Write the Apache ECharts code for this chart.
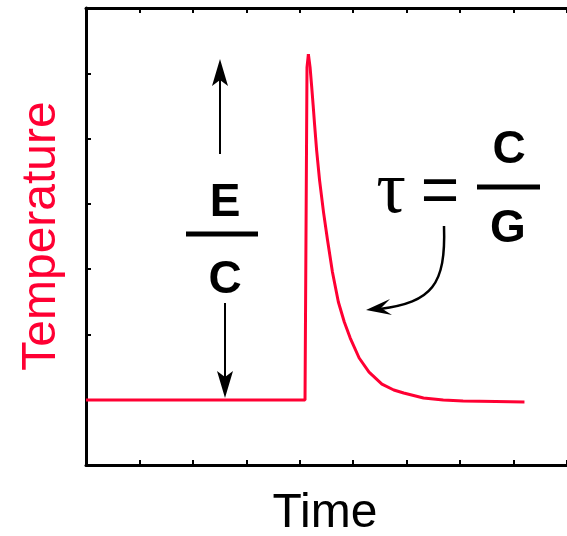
<!DOCTYPE html>
<html>
<head>
<meta charset="utf-8">
<script src="https://cdn.jsdelivr.net/npm/echarts@6/dist/echarts.min.js"></script>
<style>html,body{margin:0;padding:0;background:#fff;}#c{width:567px;height:536px;}</style>
</head>
<body>
<div id="c"></div>
<script>
// Data (arbitrary units)
const riseTime = [0, 1, 2, 3, 4, 4.098, 4.135, 4.161];
const riseTemp = [0.995, 0.995, 0.995, 0.995, 0.995, 0.995, 6.09, 6.294];
const decayTime = [4.161, 4.194, 4.222, 4.250, 4.278, 4.315, 4.370, 4.444, 4.519, 4.611, 4.722, 4.833, 4.944, 5.111, 5.296, 5.537, 5.759, 5.944, 6.315, 6.685, 7.056, 7.667, 8.204];
const decayTemp = [6.294, 6.080, 5.804, 5.513, 5.207, 4.824, 4.364, 3.874, 3.446, 2.956, 2.496, 2.190, 1.945, 1.639, 1.424, 1.240, 1.149, 1.103, 1.026, 0.995, 0.980, 0.972, 0.965];
const xRange = [0, 9];
const yRange = [0, 7];
const xTitle = 'Time';
const yTitle = 'Temperature';

const RED = '#ff0033';
const SANS = '"Liberation Sans", Arial, sans-serif';
const SERIF = '"Liberation Serif", "Times New Roman", serif';

const chart = echarts.init(document.getElementById('c'), null, {renderer: 'canvas'});

const axisCommon = {
  type: 'value',
  axisLine: {show: true, lineStyle: {color: '#000', width: 3}},
  axisTick: {show: true, inside: true, length: 5, lineStyle: {color: '#000', width: 2}},
  axisLabel: {show: false},
  splitLine: {show: false}
};

function pair(xs, ys) { return xs.map((x, i) => [x, ys[i]]); }

function arrowHead(pts) {
  return {type: 'polygon', shape: {points: pts}, style: {fill: '#000'}, z: 100};
}

const option = {
  animation: false,
  backgroundColor: '#fff',
  grid: {left: 86, top: 8, bottom: 71, right: -5, containLabel: false},
  xAxis: [
    Object.assign({}, axisCommon, {position: 'bottom', min: xRange[0], max: xRange[1], interval: 1}),
    Object.assign({}, axisCommon, {position: 'top', min: xRange[0], max: xRange[1], interval: 1})
  ],
  yAxis: [
    Object.assign({}, axisCommon, {position: 'left', min: yRange[0], max: yRange[1], interval: 1})
  ],
  series: [
    {
      type: 'line', xAxisIndex: 0, yAxisIndex: 0,
      data: pair(riseTime, riseTemp),
      showSymbol: false, smooth: false,
      lineStyle: {color: RED, width: 3}
    },
    {
      type: 'line', xAxisIndex: 0, yAxisIndex: 0,
      data: pair(decayTime, decayTemp),
      showSymbol: false, smooth: false,
      lineStyle: {color: RED, width: 3, join: 'round'}
    }
  ],
  graphic: [
    // axis titles
    {type: 'text', x: 42, y: 236, rotation: Math.PI / 2,
     style: {text: yTitle, font: '48px ' + SANS, fill: RED, textAlign: 'center', textVerticalAlign: 'middle'}},
    {type: 'text', x: 325, y: 514,
     style: {text: xTitle, font: '48px ' + SANS, fill: '#000', textAlign: 'center', textVerticalAlign: 'middle'}},
    // E / C fraction
    {type: 'text', x: 225, y: 203,
     style: {text: 'E', font: 'bold 46px ' + SANS, fill: '#000', textAlign: 'center', textVerticalAlign: 'middle'}},
    {type: 'line', shape: {x1: 186, y1: 234, x2: 258, y2: 234}, style: {stroke: '#000', lineWidth: 5}},
    {type: 'text', x: 225, y: 280,
     style: {text: 'C', font: 'bold 46px ' + SANS, fill: '#000', textAlign: 'center', textVerticalAlign: 'middle'}},
    // up arrow
    {type: 'line', shape: {x1: 220, y1: 154, x2: 220, y2: 80}, style: {stroke: '#000', lineWidth: 2}},
    arrowHead([[220, 59], [228, 86], [220, 80], [212, 86]]),
    // down arrow
    {type: 'line', shape: {x1: 225, y1: 303, x2: 225, y2: 380}, style: {stroke: '#000', lineWidth: 2}},
    arrowHead([[225, 398], [233, 371], [225, 377], [217, 371]]),
    // tau = C / G
    {type: 'text', x: 391, y: 193,
     style: {text: 'τ', font: '74px ' + SERIF, fill: '#000', textAlign: 'center', textVerticalAlign: 'middle'}},
    {type: 'text', x: 440, y: 194,
     style: {text: '=', font: '66px ' + SANS, fill: '#000', textAlign: 'center', textVerticalAlign: 'middle'}},
    {type: 'text', x: 509, y: 150,
     style: {text: 'C', font: 'bold 46px ' + SANS, fill: '#000', textAlign: 'center', textVerticalAlign: 'middle'}},
    {type: 'line', shape: {x1: 477, y1: 187, x2: 540, y2: 187}, style: {stroke: '#000', lineWidth: 5}},
    {type: 'text', x: 508, y: 229,
     style: {text: 'G', font: 'bold 46px ' + SANS, fill: '#000', textAlign: 'center', textVerticalAlign: 'middle'}},
    // curved arrow
    {type: 'bezierCurve', shape: {x1: 444, y1: 226, cpx1: 446, cpy1: 285, cpx2: 432, cpy2: 302, x2: 380, y2: 309},
     style: {stroke: '#000', lineWidth: 2.5, fill: null}},
    arrowHead([[366, 310], [390, 299], [381, 308], [392, 315]])
  ]
};

chart.setOption(option);
</script>
</body>
</html>
